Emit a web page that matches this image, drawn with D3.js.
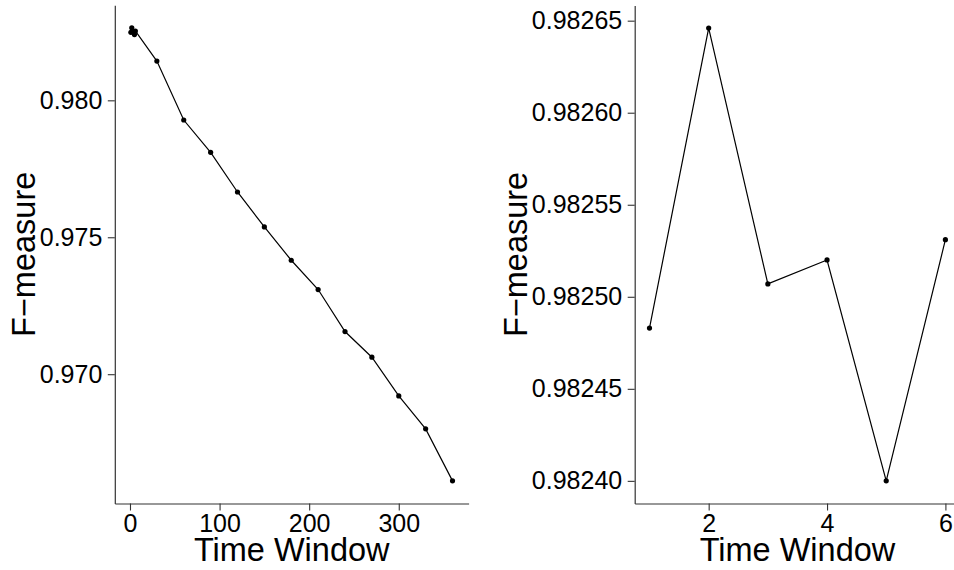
<!DOCTYPE html>
<html>
<head>
<meta charset="utf-8">
<script src="https://cdn.jsdelivr.net/npm/d3@7"></script>
<style>
  html, body { margin: 0; padding: 0; background: #fff; }
  svg { display: block; }
  text { font-family: "Liberation Sans", Arial, Helvetica, sans-serif; }
</style>
</head>
<body>
<svg id="chart" width="954" height="570"></svg>
<script>
// Short time windows (zoomed view on the right)
const shortWindows = [1, 2, 3, 4, 5, 6];
const shortF = [0.982483, 0.982646, 0.982507, 0.982520, 0.982400, 0.982531];

// Longer time windows
const longWindows = [30, 60, 90, 120, 150, 180, 210, 240, 270, 300, 330, 360];
const longF = [0.981434, 0.979281, 0.978102, 0.976653, 0.975376, 0.974161,
               0.973091, 0.971558, 0.970620, 0.969208, 0.968004, 0.966106];

// Tick values
const leftXTicks = [0, 100, 200, 300];
const leftYTicks = [0.970, 0.975, 0.980];
const rightXTicks = [2, 4, 6];
const rightYTicks = [0.98240, 0.98245, 0.98250, 0.98255, 0.98260, 0.98265];

const xLabel = "Time Window";
const yLabel = "F\u2212measure";

const svg = d3.select("#chart");

// pad an extent by 5% on each side
function padded(values) {
  const [lo, hi] = d3.extent(values);
  const p = (hi - lo) * 0.05;
  return [lo - p, hi + p];
}

function drawPanel(opts) {
  const { xs, ys, xTicks, yTicks, yFormat, left, right, top, bottom, titleX } = opts;
  const data = xs.map((x, i) => ({ x, y: ys[i] }));

  const x = d3.scaleLinear().domain(padded(xs)).range([left, right]);
  const y = d3.scaleLinear().domain(padded(ys)).range([bottom, top]);

  const g = svg.append("g");

  // axes
  const xAxis = d3.axisBottom(x).tickValues(xTicks).tickSizeInner(7).tickSizeOuter(0).tickPadding(3.5)
    .tickFormat(d3.format("d"));
  const yAxis = d3.axisLeft(y).tickValues(yTicks).tickSizeInner(7).tickSizeOuter(0).tickPadding(5.5)
    .tickFormat(d3.format(yFormat));

  const gx = g.append("g").attr("transform", `translate(0,${bottom})`).call(xAxis);
  const gy = g.append("g").attr("transform", `translate(${left},0)`).call(yAxis);

  [gx, gy].forEach(a => {
    a.select(".domain").attr("stroke", "#333").attr("stroke-width", 1.2);
    a.selectAll(".tick line").attr("stroke", "#333").attr("stroke-width", 1.1);
    a.selectAll(".tick text").attr("fill", "#000").attr("font-size", 25)
      .attr("font-family", "'Liberation Sans', Arial, Helvetica, sans-serif");
  });

  // line + points
  const line = d3.line().x(d => x(d.x)).y(d => y(d.y));
  g.append("path").datum(data)
    .attr("fill", "none").attr("stroke", "#000").attr("stroke-width", 1.2)
    .attr("d", line);
  g.selectAll("circle.pt").data(data).join("circle")
    .attr("class", "pt")
    .attr("cx", d => x(d.x)).attr("cy", d => y(d.y))
    .attr("r", 2.6).attr("fill", "#000");

  // axis titles
  g.append("text")
    .attr("x", (left + right) / 2).attr("y", 561)
    .attr("text-anchor", "middle").attr("font-size", 32.5).attr("fill", "#000")
    .text(xLabel);
  g.append("text")
    .attr("transform", `translate(${titleX},${(top + bottom) / 2}) rotate(-90)`)
    .attr("text-anchor", "middle").attr("font-size", 32.5).attr("fill", "#000")
    .text(yLabel);
}

// Left: all windows
drawPanel({
  xs: shortWindows.concat(longWindows),
  ys: shortF.concat(longF),
  xTicks: leftXTicks, yTicks: leftYTicks, yFormat: ".3f",
  left: 114.8, right: 468.6, top: 5.2, bottom: 503.5, titleX: 35
});

// Right: short windows only
drawPanel({
  xs: shortWindows, ys: shortF,
  xTicks: rightXTicks, yTicks: rightYTicks, yFormat: ".5f",
  left: 634.7, right: 960.2, top: 5.4, bottom: 503.5, titleX: 527
});
</script>
</body>
</html>
